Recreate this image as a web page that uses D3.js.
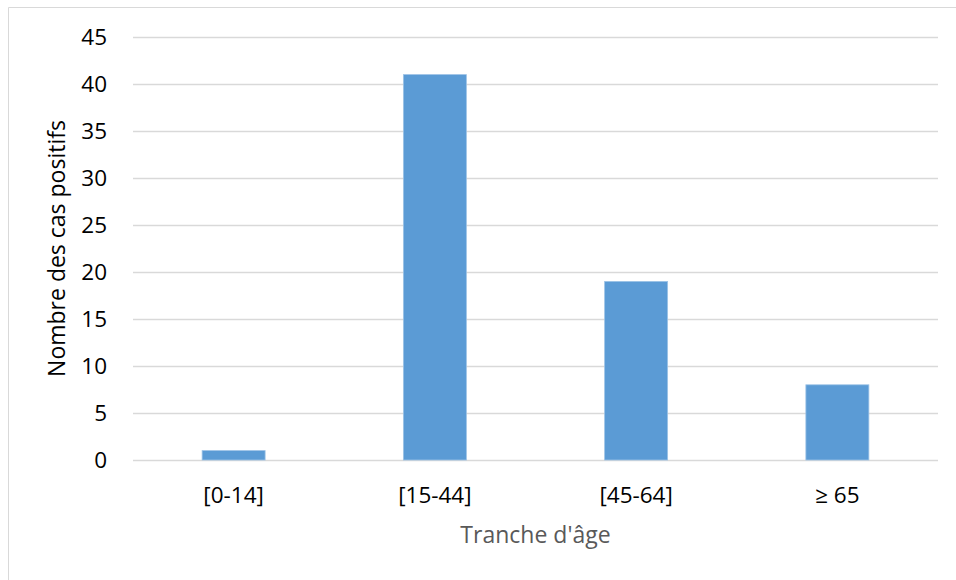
<!DOCTYPE html>
<html>
<head>
<meta charset="utf-8">
<script src="https://cdn.jsdelivr.net/npm/d3@7"></script>
<style>
  body { margin: 0; background: #fff; }
  text { font-family: "Open Sans", sans-serif; }
</style>
</head>
<body>
<div id="chart"></div>
<script>
const categories = ["[0-14]", "[15-44]", "[45-64]", "\u2265 65"]
const values = [1, 41, 19, 8]
const yTicks = [0, 5, 10, 15, 20, 25, 30, 35, 40, 45]

const params = {
  width: 956,
  height: 580,
  left: 133,
  right: 938,
  top: 37,
  bottom: 460,
}

const svg = d3.select('#chart')
  .append('svg')
  .attr('width', params.width)
  .attr('height', params.height)

// chart frame (only top and left edges are visible in the crop)
svg.append('line')
  .attr('x1', 8.5).attr('x2', params.width).attr('y1', 7.5).attr('y2', 7.5)
  .attr('stroke', '#d9d9d9').attr('stroke-width', 1)
svg.append('line')
  .attr('x1', 8.5).attr('x2', 8.5).attr('y1', 7.5).attr('y2', params.height)
  .attr('stroke', '#d9d9d9').attr('stroke-width', 1)

const x = d3.scaleBand()
  .domain(categories)
  .range([params.left, params.right])
  .padding(0)

const y = d3.scaleLinear()
  .domain([0, 45])
  .range([params.bottom, params.top])

const barWidth = x.bandwidth() * 0.313

// gridlines
svg.append('g')
  .selectAll('line')
  .data(yTicks)
  .enter()
  .append('line')
  .attr('x1', params.left)
  .attr('x2', params.right)
  .attr('y1', d => Math.round(y(d)) + 0.5)
  .attr('y2', d => Math.round(y(d)) + 0.5)
  .attr('stroke', '#d9d9d9')
  .attr('stroke-width', 1.3)

// y tick labels
svg.append('g')
  .selectAll('text')
  .data(yTicks)
  .enter()
  .append('text')
  .attr('x', 107)
  .attr('y', d => y(d))
  .attr('dy', '0.35em')
  .attr('text-anchor', 'end')
  .attr('font-size', 22.5)
  .attr('fill', '#000')
  .text(d => d)

// bars
svg.append('g')
  .selectAll('rect')
  .data(values)
  .enter()
  .append('rect')
  .attr('x', (d, i) => x(categories[i]) + x.bandwidth() / 2 - barWidth / 2)
  .attr('y', d => y(d))
  .attr('width', barWidth)
  .attr('height', d => y(0) - y(d))
  .attr('fill', '#5b9bd5')
  .attr('stroke', '#9dc3e6')
  .attr('stroke-width', 0.8)

// x labels
svg.append('g')
  .selectAll('text')
  .data(categories)
  .enter()
  .append('text')
  .attr('x', d => x(d) + x.bandwidth() / 2)
  .attr('y', 495)
  .attr('dy', '0.35em')
  .attr('text-anchor', 'middle')
  .attr('font-size', 22.5)
  .attr('fill', '#000')
  .text(d => d)

// axis titles
svg.append('text')
  .attr('x', (params.left + params.right) / 2)
  .attr('y', 535)
  .attr('dy', '0.35em')
  .attr('text-anchor', 'middle')
  .attr('font-size', 23)
  .attr('fill', '#595959')
  .text("Tranche d'\u00e2ge")

svg.append('text')
  .attr('transform', `translate(57, ${(params.top + params.bottom) / 2}) rotate(-90)`)
  .attr('dy', '0.35em')
  .attr('text-anchor', 'middle')
  .attr('font-size', 23)
  .attr('fill', '#000')
  .text('Nombre des cas positifs')
</script>
</body>
</html>
